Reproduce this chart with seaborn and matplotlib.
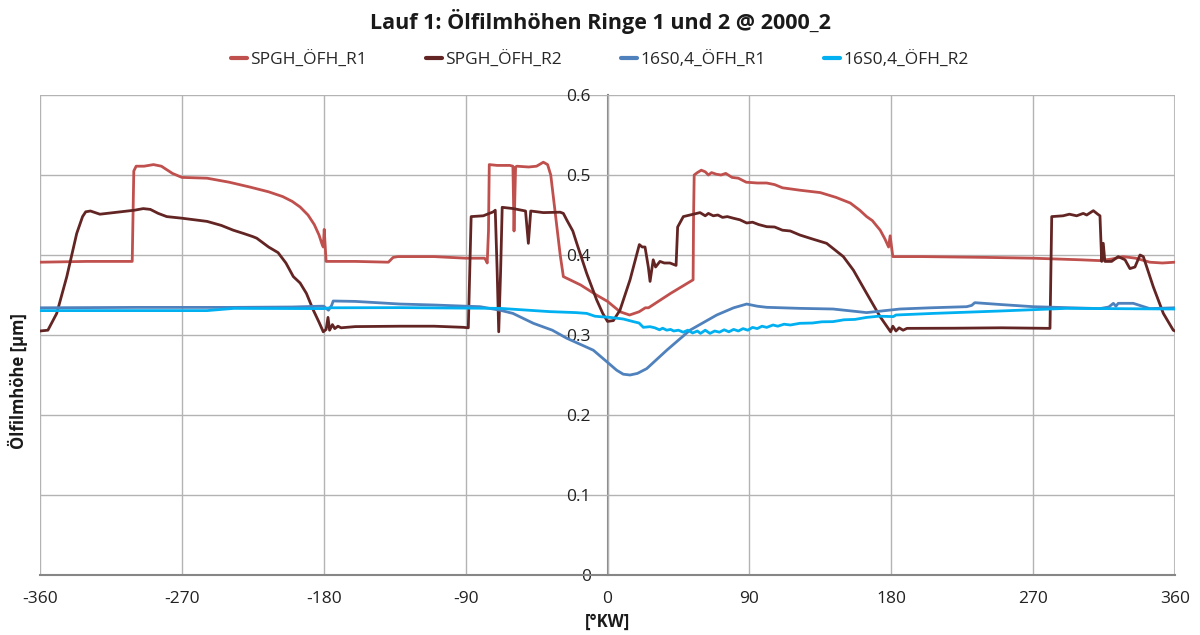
import numpy as np
import pandas as pd
import matplotlib
matplotlib.use("Agg")
import matplotlib.pyplot as plt
from matplotlib.ticker import MultipleLocator, FuncFormatter
import seaborn as sns

# ---- Messdaten: Ölfilmhöhe [µm] über Kurbelwinkel [°KW] ----
spgh_r1_kw = [-360, -330, -301.5, -300.5, -299, -294, -288, -283, -276, -270, -254, -240, -227,
              -215, -206, -200, -195, -190, -186, -183, -181, -180.3, -179.7, -179.2, -178.5,
              -160, -139, -136, -133, -110, -90, -78, -77, -76.3, -75.5, -75, -70, -62, -60,
              -59.3, -58.3, -57.5, -50, -45, -40.7, -38, -36, -33, -30, -28, -17, -7, 0, 8, 14,
              20, 24, 26, 40, 54.3, 54.6, 55, 57, 59.5, 62, 64, 66, 69, 72, 75, 79, 83, 88, 95,
              101, 106, 111, 122, 135, 145, 154, 160, 164.4, 168, 173, 176, 178.3, 179.3, 180.2,
              181, 200, 240, 270, 300, 312, 320, 327, 335, 344, 352, 360]
spgh_r1_h = [0.391, 0.392, 0.392, 0.505, 0.511, 0.511, 0.513, 0.511, 0.502, 0.497, 0.496, 0.491,
             0.485, 0.479, 0.473, 0.467, 0.460, 0.450, 0.438, 0.425, 0.413, 0.410, 0.432, 0.415,
             0.392, 0.392, 0.391, 0.397, 0.398, 0.398, 0.396, 0.396, 0.393, 0.390, 0.430, 0.513,
             0.512, 0.512, 0.511, 0.430, 0.510, 0.511, 0.510, 0.511, 0.516, 0.513, 0.500, 0.450,
             0.400, 0.373, 0.3625, 0.350, 0.342, 0.329, 0.325, 0.329, 0.334, 0.334, 0.352, 0.369,
             0.450, 0.500, 0.503, 0.506, 0.504, 0.500, 0.503, 0.501, 0.500, 0.502, 0.497, 0.496,
             0.491, 0.490, 0.490, 0.488, 0.484, 0.481, 0.478, 0.472, 0.465, 0.456, 0.448, 0.443,
             0.431, 0.420, 0.410, 0.424, 0.410, 0.398, 0.398, 0.397, 0.396, 0.394, 0.393, 0.395,
             0.398, 0.396, 0.391, 0.390, 0.391]

spgh_r2_kw = [-360, -355, -349.4, -343, -336.7, -333, -331, -328, -322, -309, -300, -294.5, -290,
              -285, -279.6, -270, -254, -245, -237.4, -231, -225, -222.5, -215, -209, -204,
              -199.3, -195, -191, -186.6, -183, -180.3, -178.5, -177.3, -176.3, -174.5, -173,
              -171, -169, -160, -131.6, -110, -91.5, -88.3, -87, -86.5, -78.8, -72.4, -71.2,
              -70, -69, -67.8, -66.8, -59.7, -52, -50.2, -48.7, -40.7, -30, -28, -25.9, -22,
              -19.5, -13.2, -6.9, -3, 0, 3.7, 7.9, 14.3, 20.2, 22, 23.8, 25.9, 27, 29, 30.5,
              33.3, 36, 39.6, 43.5, 44.5, 48.1, 54.4, 58.7, 62, 64, 67.1, 70, 73, 76, 79.8, 84,
              88.3, 92, 96, 101, 106, 111, 116, 122, 130, 139, 149.6, 156, 164.4, 172.9, 179.6,
              181, 183, 185, 187.5, 190, 220, 250, 280.7, 281.8, 289, 293, 297.6, 301.8, 304,
              308.2, 311, 312.4, 313.5, 314.5, 315.5, 319.8, 324, 328.3, 331.4, 334.6, 337.8,
              339.9, 346.2, 352.6, 358.9, 360]
spgh_r2_h = [0.305, 0.306, 0.327, 0.373, 0.427, 0.448, 0.454, 0.455, 0.451, 0.454, 0.456, 0.458,
             0.457, 0.452, 0.448, 0.446, 0.442, 0.437, 0.431, 0.427, 0.423, 0.421, 0.410, 0.403,
             0.390, 0.373, 0.365, 0.352, 0.331, 0.316, 0.304, 0.307, 0.322, 0.306, 0.313, 0.308,
             0.311, 0.309, 0.3105, 0.311, 0.311, 0.3096, 0.309, 0.410, 0.448, 0.449, 0.454, 0.456,
             0.380, 0.304, 0.380, 0.4596, 0.458, 0.455, 0.4146, 0.455, 0.453, 0.4535, 0.452,
             0.444, 0.430, 0.4146, 0.377, 0.344, 0.327, 0.317, 0.318, 0.331, 0.369, 0.413, 0.410,
             0.410, 0.385, 0.367, 0.394, 0.385, 0.392, 0.390, 0.390, 0.387, 0.435, 0.448, 0.451,
             0.453, 0.449, 0.452, 0.449, 0.450, 0.447, 0.448, 0.446, 0.444, 0.440, 0.441, 0.438,
             0.4354, 0.435, 0.431, 0.430, 0.425, 0.420, 0.4146, 0.398, 0.381, 0.352, 0.323, 0.304,
             0.311, 0.305, 0.309, 0.306, 0.3083, 0.3085, 0.309, 0.3083, 0.448, 0.449, 0.451, 0.449,
             0.452, 0.450, 0.4554, 0.451, 0.449, 0.392, 0.4146, 0.392, 0.392, 0.398, 0.394, 0.383,
             0.385, 0.400, 0.398, 0.3604, 0.327, 0.306, 0.305]

s16_r1_kw = [-360, -300, -240, -200, -182, -180, -177, -175, -174, -160, -131.6, -110, -90, -80.9,
             -68.2, -60, -47, -35, -25.9, -9, -0.5, 5.8, 10, 14.3, 19, 24.9, 37.6, 52.3, 69.3, 80,
             88.3, 95, 101, 122, 143, 164.4, 185.6, 205, 227.9, 231, 233, 250, 270, 312.4, 318,
             320.9, 322.5, 324, 333.5, 344, 360]
s16_r1_h = [0.334, 0.3345, 0.3345, 0.335, 0.336, 0.336, 0.331, 0.337, 0.3425, 0.342, 0.3387,
            0.3375, 0.336, 0.3354, 0.331, 0.327, 0.3146, 0.306, 0.296, 0.281, 0.2667, 0.256,
            0.251, 0.250, 0.252, 0.258, 0.281, 0.306, 0.325, 0.334, 0.3387, 0.336, 0.3346, 0.3333,
            0.3325, 0.328, 0.3325, 0.334, 0.3354, 0.337, 0.3404, 0.338, 0.3354, 0.333, 0.335,
            0.3396, 0.336, 0.3396, 0.3396, 0.333, 0.334]

s16_r2_kw = [-360, -300, -254, -237, -180, -176, -131.6, -68.2, -36.5, -20, -13.2, -8, -4.8, 1.6,
             10, 16.4, 20, 22.7, 27, 30, 33, 35, 37.6, 40, 42, 45, 48, 51, 54, 57, 59, 62, 65, 68,
             71, 74, 77, 80, 83, 86, 89, 92, 95, 98, 101, 105, 108, 112, 116, 122, 130, 136, 143,
             150, 157, 164.4, 172, 181.3, 183, 206.7, 249, 291, 360]
s16_r2_h = [0.3305, 0.3305, 0.3305, 0.3333, 0.333, 0.334, 0.3342, 0.3333, 0.3292, 0.328, 0.327,
            0.3235, 0.3229, 0.322, 0.320, 0.3167, 0.315, 0.3096, 0.3104, 0.309, 0.3065, 0.3085,
            0.306, 0.307, 0.305, 0.306, 0.3035, 0.306, 0.3025, 0.305, 0.302, 0.306, 0.302, 0.305,
            0.3035, 0.3065, 0.304, 0.307, 0.305, 0.308, 0.306, 0.3095, 0.308, 0.311, 0.3095,
            0.3125, 0.311, 0.3135, 0.3125, 0.3146, 0.315, 0.3165, 0.3167, 0.319, 0.3195, 0.322,
            0.3235, 0.323, 0.325, 0.327, 0.330, 0.3333, 0.3325]

series_names = ["SPGH_ÖFH_R1", "SPGH_ÖFH_R2", "16S0,4_ÖFH_R1", "16S0,4_ÖFH_R2"]
series_colors = ["#C0504D", "#632523", "#4F81BD", "#00B0F0"]
x_ticks = [-360, -270, -180, -90, 0, 90, 180, 270, 360]
y_ticks = [0, 0.1, 0.2, 0.3, 0.4, 0.5, 0.6]

frames = []
for name, kw, h in zip(series_names,
                       [spgh_r1_kw, spgh_r2_kw, s16_r1_kw, s16_r2_kw],
                       [spgh_r1_h, spgh_r2_h, s16_r1_h, s16_r2_h]):
    frames.append(pd.DataFrame({"KW": kw, "h": h, "Reihe": name}))
df = pd.concat(frames, ignore_index=True)

sns.set_theme(style="white")
plt.rcParams["font.family"] = ["Open Sans", "DejaVu Sans"]

fig = plt.figure(figsize=(12, 6.35), dpi=100)
ax = fig.add_axes([40 / 1200, 1 - 575 / 635, 1135 / 1200, 480 / 635])

sns.lineplot(data=df, x="KW", y="h", hue="Reihe", hue_order=series_names,
             palette=dict(zip(series_names, series_colors)), sort=False,
             estimator=None, linewidth=2.0, ax=ax, legend=True)

ax.set_xlim(-360, 360)
ax.set_ylim(0, 0.6)
ax.set_xticks(x_ticks)
ax.set_yticks(y_ticks)
ax.xaxis.set_minor_locator(MultipleLocator(45))
ax.xaxis.set_major_formatter(FuncFormatter(lambda v, p: f"{int(round(v))}"))
ax.yaxis.set_major_formatter(FuncFormatter(lambda v, p: f"{v:g}"))

grid_col = "#B3B3B3"
axis_col = "#868686"
ax.grid(True, which="major", color=grid_col, linewidth=1.0)
ax.set_axisbelow(True)
for s in ["top", "right"]:
    ax.spines[s].set_visible(False)
ax.spines["left"].set_position(("data", 0))
ax.spines["left"].set_color(axis_col)
ax.spines["left"].set_linewidth(1.5)
ax.spines["bottom"].set_color(axis_col)
ax.spines["bottom"].set_linewidth(1.5)
ax.spines["left"].set_zorder(0.5)

ax.tick_params(axis="y", direction="out", length=4, width=1.2, color=axis_col,
               pad=8, labelsize=12.5, labelcolor="#222222")
ax.tick_params(axis="x", which="both", direction="inout", length=7, width=1.2,
               color=axis_col, pad=8, labelsize=12.5, labelcolor="#222222")
ax.set_xlabel("")
ax.set_ylabel("")

# right frame edge at 360 °KW
ax.axvline(360, color="#BFBFBF", linewidth=1.5, zorder=0.4)

handles, labels = ax.get_legend_handles_labels()
ax.get_legend().remove()
for hnd in handles:
    hnd.set_linewidth(3)
fig.legend(handles, labels, loc="center", bbox_to_anchor=(0.5, 1 - 60 / 635), ncol=4,
           frameon=False, fontsize=12.5, handlelength=0.9, handletextpad=0.2,
           columnspacing=3.4)

fig.text(0.5, 1 - 22 / 635, "Lauf 1: Ölfilmhöhen Ringe 1 und 2 @ 2000_2",
         ha="center", va="center", fontsize=15.5, fontweight="bold", color="#1a1a1a")
fig.text(18 / 1200, 1 - 381 / 635, "Ölfilmhöhe [µm]", rotation=90, ha="center",
         va="center", fontsize=12, fontweight="bold", color="#1a1a1a")
fig.text(607 / 1200, 1 - 622 / 635, "[°KW]", ha="center", va="center",
         fontsize=12, fontweight="bold", color="#1a1a1a")

fig.savefig("out.png", dpi=100)
